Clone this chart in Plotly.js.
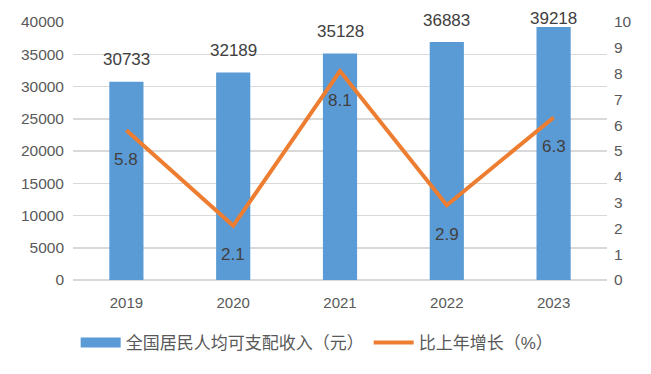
<!DOCTYPE html>
<html><head><meta charset="utf-8">
<script src="https://cdn.plot.ly/plotly-3.0.1.min.js"></script>
<style>html,body{margin:0;padding:0;background:#fff}#c{width:651px;height:374px}</style>
</head><body><div id="c"></div>
<script>
const years = ['2019','2020','2021','2022','2023'];
const income = [30733, 32189, 35128, 36883, 39218];
const growth = [5.8, 2.1, 8.1, 2.9, 6.3];
const barName = '全国居民人均可支配收入（元）';
const lineName = '比上年增长（%）';

const FONT = 'Liberation Sans, Noto Sans CJK SC, sans-serif';
const TXT = '#404040';
const BLUE = '#5B9BD5', ORANGE = '#ED7D31';

const traces = [
  {type:'bar', x:years, y:income, name:barName, marker:{color:BLUE}, width:0.32,
   showlegend:false, hoverinfo:'skip'},
  // legend entry for the bar series drawn as a wide block, as in the reference
  {type:'scatter', mode:'lines', x:[null], y:[null], name:barName,
   line:{color:BLUE, width:12}, hoverinfo:'skip'},
  {type:'scatter', mode:'lines', x:years, y:growth, name:lineName, yaxis:'y2',
   line:{color:ORANGE, width:4}, hoverinfo:'skip'}
];

const plotH = 258, yMax = 40000;
const ann = [];
income.forEach((v,i)=>{
  const top = v / yMax * plotH;            // bar top, px above the baseline
  const shift = Math.min(22, plotH + 3 - top); // labels stay inside the chart frame
  ann.push({x:i, y:v, xref:'x', yref:'y', text:String(v), showarrow:false,
    yshift:shift, font:{family:FONT, size:17, color:TXT}, yanchor:'middle'});
});
growth.forEach((v,i)=>{
  ann.push({x:i, y:v, xref:'x', yref:'y2', text:v.toFixed(1), showarrow:false,
    yshift:-29, font:{family:FONT, size:17, color:TXT}, yanchor:'middle'});
});

const layout = {
  width:651, height:374,
  margin:{l:73, r:44, t:22, b:94, autoexpand:false},
  paper_bgcolor:'#fff', plot_bgcolor:'#fff',
  font:{family:FONT, color:'#595959', size:15},
  showlegend:true,
  legend:{orientation:'h', x:0.005, xanchor:'left', y:-0.244, yanchor:'middle',
    font:{family:FONT, size:17, color:'#595959'}, itemwidth:40},
  xaxis:{type:'category', automargin:false, showgrid:false, zeroline:false, showline:false, ticks:'',
    tickfont:{family:FONT, size:15, color:'#595959'}, ticklabelstandoff:12},
  yaxis:{range:[0,40000], automargin:false, dtick:5000, tickformat:'d', showgrid:true, gridcolor:'#D9D9D9', gridwidth:1.5,
    zeroline:true, zerolinecolor:'#D9D9D9', zerolinewidth:1.5, showline:false, ticks:'',
    tickfont:{family:FONT, size:15.5, color:'#595959'}, ticklabelstandoff:8},
  yaxis2:{range:[0,10], automargin:false, dtick:1, overlaying:'y', side:'right', showgrid:false, zeroline:false,
    showline:false, ticks:'', tickfont:{family:FONT, size:15.5, color:'#595959'}, ticklabelstandoff:6},
  annotations:ann
};
Plotly.newPlot('c', traces, layout, {displayModeBar:false, staticPlot:true});
</script></body></html>
